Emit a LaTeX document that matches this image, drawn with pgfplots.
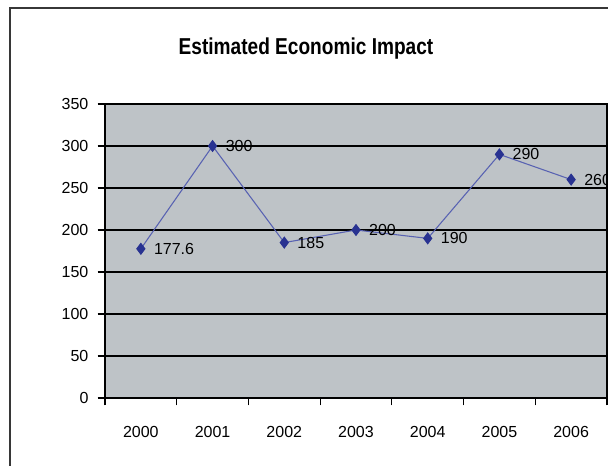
\documentclass[border=0pt]{standalone}
\usepackage{pgfplots}
\pgfplotsset{compat=1.18}
\usepackage{fontspec}
\setmainfont{Liberation Sans}
\newfontfamily\titlefont[FakeStretch=0.83]{Liberation Sans}

\definecolor{plotbg}{RGB}{190,195,199}
\definecolor{linecol}{RGB}{88,98,178}
\definecolor{markcol}{RGB}{40,50,145}
\definecolor{framecol}{RGB}{55,55,55}

\pgfplotstableread{
x y label
0 177.6 177.6
1 300 300
2 185 185
3 200 200
4 190 190
5 290 290
6 260 260
}\impact

\begin{document}
\begin{tikzpicture}
% chart area border (left and top only, rest is cropped)
\draw[line width=0.9pt, framecol] (7.5pt,-5pt) -- (7.5pt,343.5pt) -- (470pt,343.5pt);
\node[anchor=base, font=\titlefont\bfseries\fontsize{17.25}{20}\selectfont]
  at (229.5pt,308.8pt) {Estimated Economic Impact};
\begin{axis}[
  at={(78.75pt,51pt)}, anchor=south west,
  scale only axis, width=376.5pt, height=220.5pt,
  axis background/.style={fill=plotbg},
  axis line style={black, line width=0.9pt},
  xmin=-0.5, xmax=6.5, ymin=0, ymax=350,
  ytick={0,50,...,350},
  ymajorgrids, major grid style={black, line width=1.1pt},
  xtick={0,...,6},
  xticklabels={2000,2001,2002,2003,2004,2005,2006},
  minor xtick={-0.5,0.5,...,6.5},
  major x tick style={draw=none},
  tick align=outside, major tick length=5.5pt, minor tick length=5.5pt,
  tick style={black, line width=0.9pt},
  xtick pos=left, ytick pos=left,
  /pgf/number format/assume math mode=true,
  ticklabel style={font=\fontsize{12}{14}\selectfont},
  yticklabel style={anchor=east, inner sep=0pt, xshift=-6.75pt},
  xticklabel style={anchor=base, inner sep=0pt, yshift=-24.5pt},
]
\addplot[color=linecol, line width=0.8pt,
  mark=diamond*, mark size=4pt,
  mark options={fill=markcol, draw=markcol},
  nodes near coords, point meta=explicit symbolic,
  every node near coord/.append style={anchor=west, inner sep=0pt, xshift=9.5pt,
    text=black, font=\fontsize{12}{14}\selectfont}]
  table[x=x, y=y, meta=label] {\impact};
\end{axis}
\pgfresetboundingbox
\path[use as bounding box] (0,0) rectangle (456pt,349.5pt);
\end{tikzpicture}
\end{document}
